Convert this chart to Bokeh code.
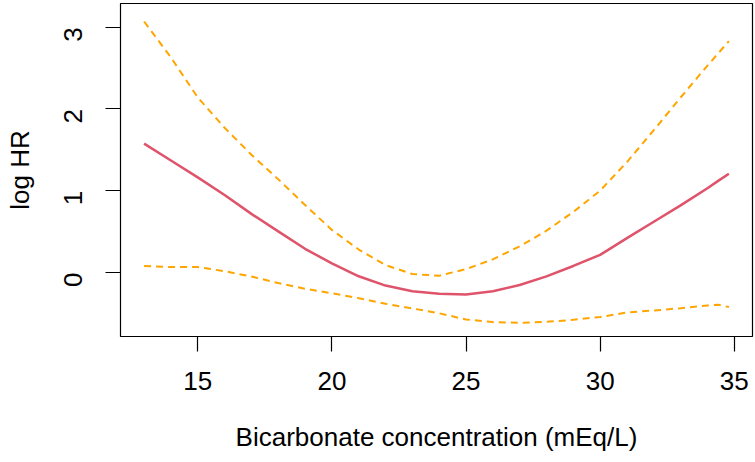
import math
from bokeh.plotting import figure
from bokeh.models import Range1d, FixedTicker
from bokeh.embed import file_html
from bokeh.resources import INLINE

# Data
bicarbonate = [13, 14, 15, 16, 17, 18, 19, 20, 21, 22, 23, 24, 25, 26, 27, 28, 29, 30, 31, 32, 33, 34, 34.4, 34.8]
log_hr = [1.575, 1.37, 1.163, 0.947, 0.716, 0.502, 0.289, 0.11, -0.047, -0.161, -0.23, -0.262, -0.269, -0.231,
          -0.154, -0.048, 0.079, 0.215, 0.419, 0.62, 0.82, 1.03, 1.12, 1.208]
upper_ci = [3.07, 2.63, 2.14, 1.77, 1.44, 1.14, 0.825, 0.52, 0.28, 0.09, -0.02, -0.04, 0.04, 0.16, 0.32, 0.51,
            0.74, 1.0, 1.35, 1.74, 2.14, 2.53, 2.68, 2.83]
lower_ci = [0.077, 0.066, 0.065, 0.015, -0.05, -0.13, -0.20, -0.255, -0.315, -0.384, -0.441, -0.50, -0.576,
            -0.608, -0.616, -0.605, -0.58, -0.545, -0.49, -0.466, -0.438, -0.405, -0.396, -0.424]
x_ticks = [15, 20, 25, 30, 35]
y_ticks = [0, 1, 2, 3]

FONT = "Liberation Sans"

p = figure(width=755, height=462, output_backend="svg", toolbar_location=None,
           x_range=Range1d(12.12, 35.68), y_range=Range1d(-0.784, 3.29),
           min_border_left=120, min_border_right=3, min_border_top=3, min_border_bottom=126)

p.background_fill_color = "white"
p.border_fill_color = "white"
p.outline_line_color = "black"
p.outline_line_width = 1.2
p.grid.visible = False

p.xaxis.ticker = FixedTicker(ticks=x_ticks)
p.yaxis.ticker = FixedTicker(ticks=y_ticks)
for ax in (p.xaxis, p.yaxis):
    ax.axis_line_color = None
    ax.major_tick_in = 0
    ax.major_tick_out = 15
    ax.major_tick_line_color = "black"
    ax.major_tick_line_width = 1.2
    ax.minor_tick_line_color = None
    ax.major_label_text_font = FONT
    ax.major_label_text_font_size = "26px"
    ax.major_label_text_color = "black"
    ax.axis_label_text_font = FONT
    ax.axis_label_text_font_size = "26px"
    ax.axis_label_text_font_style = "normal"
    ax.axis_label_text_color = "black"

p.yaxis.major_label_orientation = math.pi / 2
p.xaxis.axis_label = "Bicarbonate concentration (mEq/L)"
p.yaxis.axis_label = "log HR"
p.xaxis.major_label_standoff = 20
p.xaxis.axis_label_standoff = 29
p.yaxis.major_label_standoff = 32
p.yaxis.axis_label_standoff = 18

p.line(bicarbonate, upper_ci, line_color="#FFA500", line_width=2, line_dash="7 5")
p.line(bicarbonate, lower_ci, line_color="#FFA500", line_width=2, line_dash="7 5")
p.line(bicarbonate, log_hr, line_color="#DF536B", line_width=2.5)

open("out.html", "w").write(file_html(p, INLINE))
